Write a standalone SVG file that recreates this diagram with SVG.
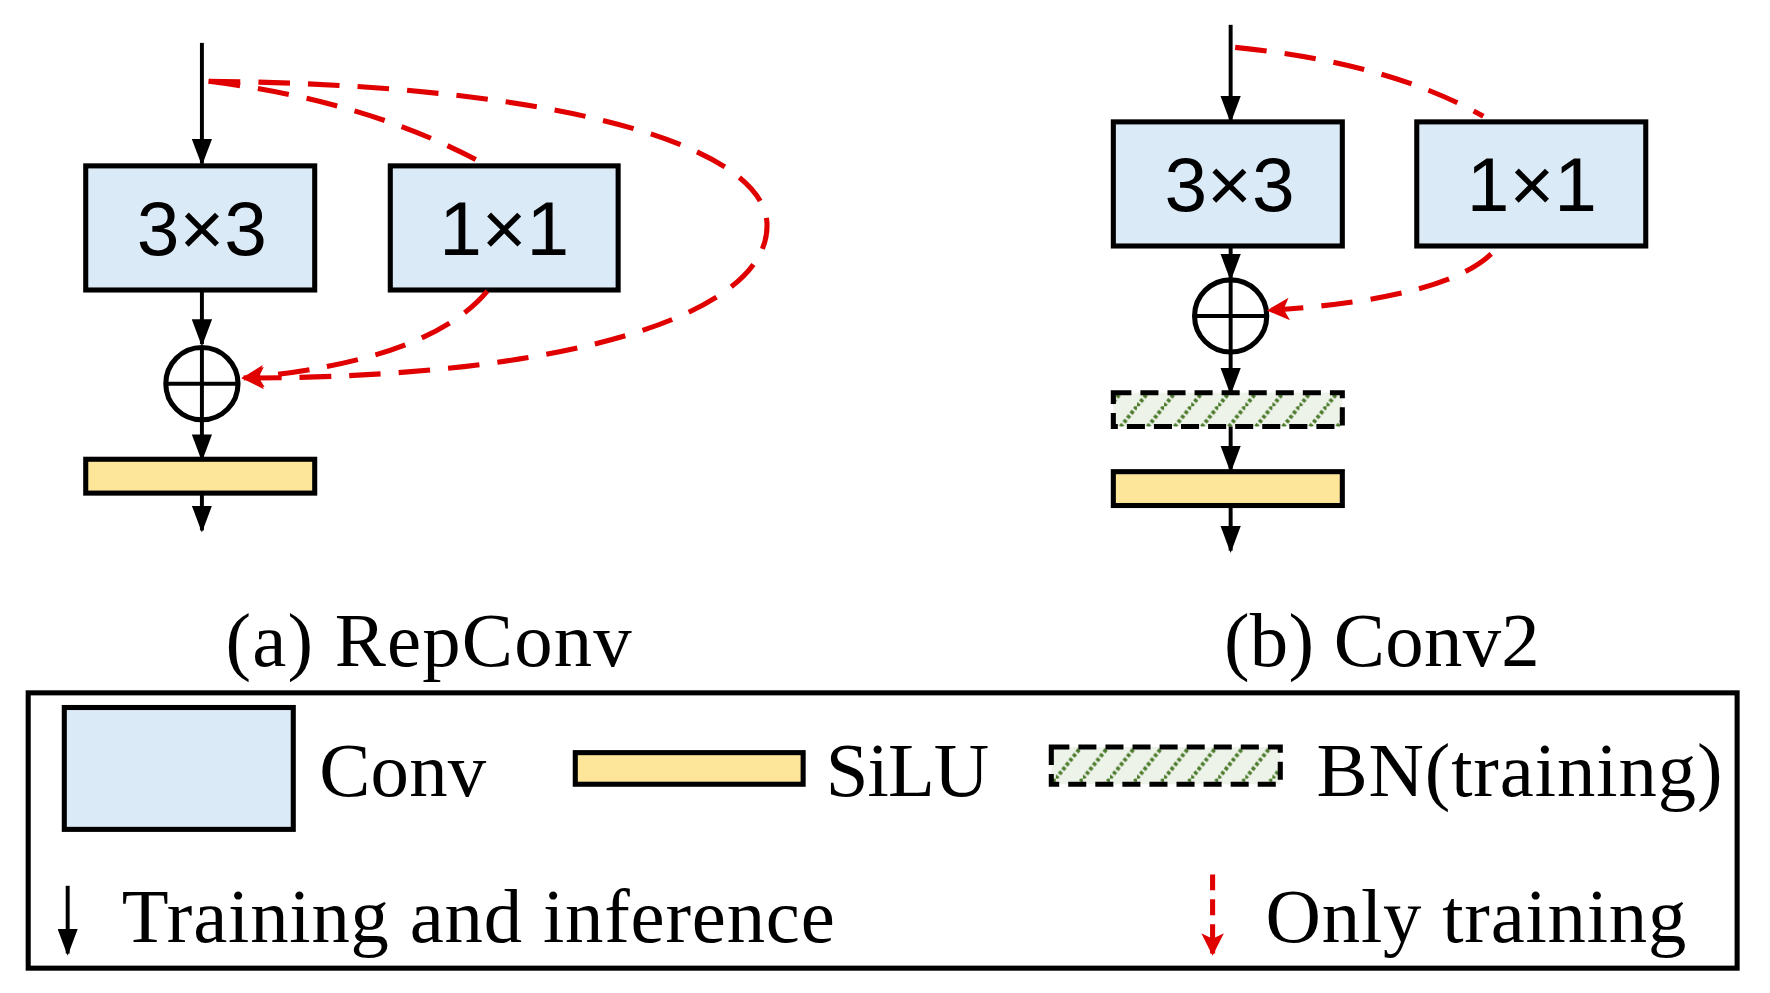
<svg xmlns="http://www.w3.org/2000/svg" width="1770" height="993" viewBox="0 0 1770 993">
<style>
.conv{fill:#dbeaf7;stroke:#000;stroke-width:4.5}
.silu{fill:#fde599;stroke:#000;stroke-width:4.5}
.bn{fill:url(#hatch);stroke:#000;stroke-width:4.5;stroke-dasharray:16,8}
.blk{stroke:#000;stroke-width:3.5;fill:none}
.red{stroke:#e00000;stroke-width:4.5;fill:none;stroke-dasharray:28,16}
.lbl{font-family:"Liberation Sans",Arial,sans-serif;font-size:68px;text-anchor:middle}
.ser{font-family:"Liberation Serif","Times New Roman",serif;font-size:68px}
</style>
<defs>
<marker id="ar" markerWidth="20" markerHeight="20" refX="18" refY="10" orient="auto" markerUnits="userSpaceOnUse" viewBox="0 0 20 20"><path d="M0,0L20,10L0,20L5,10z" fill="#e00000"/></marker>
<pattern id="hatch" width="24" height="30" patternUnits="userSpaceOnUse"><rect width="24" height="30" fill="#eef3ea"/><path d="M0,30L24,0" stroke="#4a7a2a" stroke-width="3.5" stroke-dasharray="3,2"/></pattern>
<marker id="abig" markerWidth="24" markerHeight="18" refX="22" refY="9" orient="auto" markerUnits="userSpaceOnUse" viewBox="0 0 24 18"><path d="M0,0L24,9L0,18z" fill="#000"/></marker>
</defs>
<g transform="scale(1.128 1.1284)">
<g id="a-conv3"><rect class="conv" x="76" y="147" width="203" height="110"/><text class="lbl" x="179" y="226">3×3</text></g>
<g id="a-conv1"><rect class="conv" x="346" y="147" width="202" height="110"/><text class="lbl" x="447" y="226">1×1</text></g>
<g id="a-add"><circle cx="179" cy="340" r="32" fill="#fff" stroke="#000" stroke-width="4.5"/><path d="M147,340H211M179,308V372" class="blk"/></g>
<g id="a-silu"><rect class="silu" x="76" y="407" width="203" height="30"/></g>
<g id="b-conv3"><rect class="conv" x="987" y="108" width="203" height="110"/><text class="lbl" x="1090" y="187">3×3</text></g>
<g id="b-conv1"><rect class="conv" x="1256" y="108" width="203" height="110"/><text class="lbl" x="1358" y="187">1×1</text></g>
<g id="b-add"><circle cx="1091" cy="280" r="32" fill="#fff" stroke="#000" stroke-width="4.5"/><path d="M1059,280H1123M1091,248V312" class="blk"/></g>
<g id="b-bn"><rect class="bn" x="987" y="348" width="203" height="30"/></g>
<g id="b-silu"><rect class="silu" x="987" y="418" width="203" height="30"/></g>
<g id="connectors">
<path class="blk" d="M179,38V145" marker-end="url(#abig)"/>
<path class="blk" d="M179,257V305" marker-end="url(#abig)"/>
<path class="blk" d="M179,372V407" marker-end="url(#abig)"/>
<path class="blk" d="M179,437V470" marker-end="url(#abig)"/>
<path class="red" d="M185,72Q330,90 432,147"/>
<path class="red" d="M185,72C500,75 680,130 680,200C680,280 500,335 216,335" marker-end="url(#ar)"/>
<path class="red" d="M432,258Q380,320 216,335" marker-end="url(#ar)"/>
<path class="blk" d="M1091,22V107" marker-end="url(#abig)"/>
<path class="blk" d="M1091,218V247" marker-end="url(#abig)"/>
<path class="blk" d="M1091,312V348" marker-end="url(#abig)"/>
<path class="blk" d="M1091,378V417" marker-end="url(#abig)"/>
<path class="blk" d="M1091,448V488" marker-end="url(#abig)"/>
<path class="red" d="M1095,42Q1230,55 1315,103"/>
<path class="red" d="M1322,225Q1280,265 1125,275" marker-end="url(#ar)"/>
</g>
<text class="ser" x="380" y="590" text-anchor="middle" textLength="360">(a) RepConv</text>
<text class="ser" x="1225" y="590" text-anchor="middle" textLength="280">(b) Conv2</text>
<g id="legend">
<rect x="25" y="614" width="1515" height="244" fill="none" stroke="#000" stroke-width="4.5"/>
<rect class="conv" x="57" y="627" width="203" height="108"/>
<text class="ser" x="283" y="705" textLength="148">Conv</text>
<rect class="silu" x="510" y="667" width="202" height="28"/>
<text class="ser" x="732" y="705" textLength="145">SiLU</text>
<rect class="bn" x="932" y="662" width="203" height="33"/>
<text class="ser" x="1167" y="705" textLength="360">BN(training)</text>
<path class="blk" d="M60,785V845" marker-end="url(#abig)"/>
<text class="ser" x="108" y="835" textLength="632">Training and inference</text>
<path class="red" d="M1075,775V845" style="stroke-dasharray:14,8" marker-end="url(#ar)"/>
<text class="ser" x="1122" y="835" textLength="373">Only training</text>
</g>
</g>
</svg>
